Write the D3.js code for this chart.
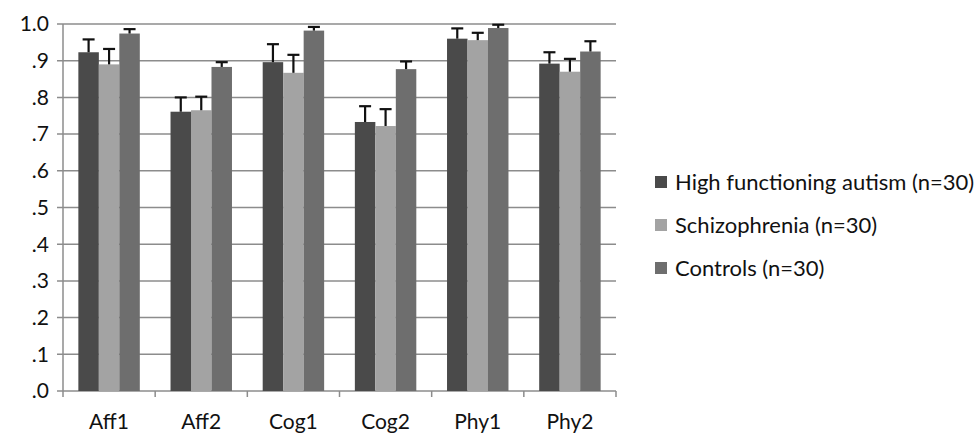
<html>
<head>
    <script src="https://d3js.org/d3.v7.min.js"></script>
    <style>
        body { margin: 0; background: #fff; }
        text { font-family: Lato, "Open Sans", sans-serif; fill: #111; }
    </style>
</head>
<body>
    <svg id="svg" width="977" height="433"></svg>
    <script>
        // DATA
        const categories = ["Aff1", "Aff2", "Cog1", "Cog2", "Phy1", "Phy2"]
        const groups = ["High functioning autism (n=30)", "Schizophrenia (n=30)", "Controls (n=30)"]
        const hfa = [0.923, 0.761, 0.896, 0.733, 0.960, 0.892]
        const scz = [0.890, 0.765, 0.867, 0.722, 0.956, 0.870]
        const ctl = [0.974, 0.883, 0.982, 0.877, 0.989, 0.925]
        // upper end of the error bars
        const hfaErr = [0.958, 0.800, 0.945, 0.776, 0.988, 0.923]
        const sczErr = [0.932, 0.802, 0.916, 0.768, 0.976, 0.905]
        const ctlErr = [0.986, 0.896, 0.992, 0.898, 0.998, 0.953]
        const yTicks = [0, 0.1, 0.2, 0.3, 0.4, 0.5, 0.6, 0.7, 0.8, 0.9, 1.0]
        const colors = ["#4a4a4a", "#a3a3a3", "#6e6e6e"]

        const series = [
            { name: groups[0], values: hfa, err: hfaErr },
            { name: groups[1], values: scz, err: sczErr },
            { name: groups[2], values: ctl, err: ctlErr }
        ]

        // LAYOUT
        const plotLeft = 63, plotRight = 616, plotTop = 24, plotBottom = 391

        const svg = d3.select("#svg")

        const x = d3.scaleBand().domain(categories).range([plotLeft, plotRight])
        // Excel style: gap of 150% of a bar width shared on both sides
        const barW = x.bandwidth() / 4.5
        const inner = d3.scaleBand().domain(groups).range([barW * 0.75, barW * 3.75])
        const y = d3.scaleLinear().domain([0, 1]).range([plotBottom, plotTop])
        const fmt = d => d === 1 ? "1.0" : d3.format(".1f")(d).replace(/^0/, "")

        // gridlines
        svg.append("g")
            .selectAll("line")
            .data(yTicks)
            .join("line")
            .attr("x1", plotLeft - 6).attr("x2", plotRight)
            .attr("y1", d => y(d)).attr("y2", d => y(d))
            .attr("stroke", "#8c8c8c").attr("stroke-width", 1.5)

        // y labels
        svg.append("g")
            .selectAll("text")
            .data(yTicks)
            .join("text")
            .attr("x", 49).attr("y", d => y(d))
            .attr("dy", "0.35em")
            .attr("text-anchor", "end")
            .style("font-size", "21px")
            .text(fmt)

        // axes lines
        svg.append("line")
            .attr("x1", plotLeft).attr("x2", plotLeft).attr("y1", plotTop).attr("y2", plotBottom)
            .attr("stroke", "#8c8c8c").attr("stroke-width", 1.5)
        const bounds = categories.map(c => x(c)).concat([plotRight])
        svg.append("g")
            .selectAll("line")
            .data(bounds)
            .join("line")
            .attr("x1", d => d).attr("x2", d => d)
            .attr("y1", plotBottom).attr("y2", plotBottom + 6)
            .attr("stroke", "#8c8c8c").attr("stroke-width", 1.5)

        // bars
        const bars = svg.append("g")
        series.forEach((s, i) => {
            bars.append("g")
                .selectAll("rect")
                .data(categories)
                .join("rect")
                .attr("x", (c) => x(c) + inner(s.name))
                .attr("width", inner.bandwidth())
                .attr("y", (c, j) => y(s.values[j]))
                .attr("height", (c, j) => y(0) - y(s.values[j]))
                .attr("fill", colors[i])
        })

        // error bars (upper only)
        const errs = svg.append("g").attr("stroke", "#111").attr("stroke-width", 2.2)
        series.forEach((s, i) => {
            categories.forEach((c, j) => {
                const cx = x(c) + inner(s.name) + inner.bandwidth() / 2
                errs.append("line")
                    .attr("x1", cx).attr("x2", cx)
                    .attr("y1", y(s.values[j])).attr("y2", y(s.err[j]))
                errs.append("line")
                    .attr("x1", cx - 6).attr("x2", cx + 6)
                    .attr("y1", y(s.err[j])).attr("y2", y(s.err[j]))
            })
        })

        // category labels
        svg.append("g")
            .selectAll("text")
            .data(categories)
            .join("text")
            .attr("x", c => x(c) + x.bandwidth() / 2)
            .attr("y", 422)
            .attr("dy", "0.35em")
            .attr("text-anchor", "middle")
            .style("font-size", "21px")
            .text(d => d)

        // legend
        const legend = svg.append("g")
            .selectAll("g")
            .data(series)
            .join("g")
            .attr("transform", (d, i) => `translate(655, ${182 + i * 43})`)
        legend.append("rect")
            .attr("x", 0).attr("y", -6).attr("width", 12).attr("height", 12)
            .attr("fill", (d, i) => colors[i])
        legend.append("text")
            .attr("x", 20).attr("y", 0).attr("dy", "0.35em")
            .style("font-size", "22px")
            .text(d => d.name)
    </script>
</body>
</html>
